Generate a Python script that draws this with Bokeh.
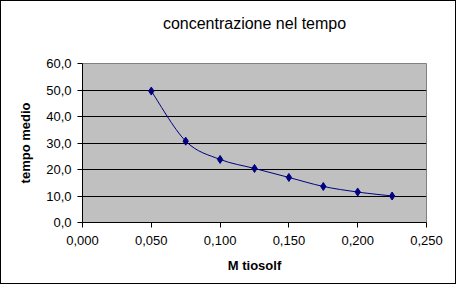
from bokeh.plotting import figure
from bokeh.models import (FixedTicker, CustomJSTickFormatter, Range1d, ColumnDataSource)
from bokeh.embed import file_html
from bokeh.resources import INLINE

# Data
conc = [0.050, 0.075, 0.100, 0.125, 0.150, 0.175, 0.200, 0.225]
tempo = [49.6, 30.7, 23.8, 20.4, 17.0, 13.6, 11.5, 10.0]
x_ticks = [0.0, 0.05, 0.10, 0.15, 0.20, 0.25]
y_ticks = [0, 10, 20, 30, 40, 50, 60]
title_text = "concentrazione nel tempo"
x_label = "M tiosolf"
y_label = "tempo medio"

FONT = "Liberation Sans"

p = figure(width=456, height=284, output_backend="svg", toolbar_location=None,
           x_range=Range1d(0, 0.25), y_range=Range1d(0, 60),
           min_border_left=81, min_border_right=31, min_border_top=62, min_border_bottom=63)
p.styles = {"border": "1px solid black"}

p.background_fill_color = "#C0C0C0"
p.border_fill_color = "white"
p.outline_line_color = "#808080"
p.outline_line_width = 1

# title (a blank second line lifts it higher above the frame)
p.title.text = title_text + "\n "
p.title.align = "center"
p.title.offset = -26
p.title.text_font = FONT
p.title.text_font_size = "16px"
p.title.text_line_height = 1.4
p.title.text_font_style = "normal"
p.title.text_color = "black"
p.title.standoff = 16

# axes
for ax in (p.xaxis[0], p.yaxis[0]):
    ax.axis_line_color = "black"
    ax.major_tick_line_color = "black"
    ax.major_tick_in = 0
    ax.major_tick_out = 5
    ax.minor_tick_line_color = None
    ax.major_label_text_font = FONT
    ax.major_label_text_font_size = "13px"
    ax.major_label_text_color = "black"
    ax.axis_label_text_font = FONT
    ax.axis_label_text_font_size = "13px"
    ax.axis_label_text_font_style = "bold"
    ax.axis_label_text_color = "black"

p.xaxis.ticker = FixedTicker(ticks=x_ticks)
p.yaxis.ticker = FixedTicker(ticks=y_ticks)
p.xaxis.formatter = CustomJSTickFormatter(code="return tick.toFixed(3).replace('.', ',');")
p.yaxis.formatter = CustomJSTickFormatter(code="return tick.toFixed(1).replace('.', ',');")
p.xaxis.axis_label = x_label
p.yaxis.axis_label = y_label
p.xaxis.major_label_standoff = 8
p.xaxis.axis_label_standoff = 10
p.yaxis.major_label_standoff = 6
p.yaxis.axis_label_standoff = 10

p.xgrid.grid_line_color = None
p.ygrid.ticker = FixedTicker(ticks=[10, 20, 30, 40, 50])
p.ygrid.grid_line_color = "black"
p.ygrid.grid_line_width = 1

# smooth curve (Bezier segments built from the data points)
n = len(conc)
x0, y0, x1, y1, cx0, cy0, cx1, cy1 = [], [], [], [], [], [], [], []
for i in range(n - 1):
    xm = conc[i - 1] if i > 0 else conc[i]
    ym = tempo[i - 1] if i > 0 else tempo[i]
    xp = conc[i + 2] if i + 2 < n else conc[i + 1]
    yp = tempo[i + 2] if i + 2 < n else tempo[i + 1]
    x0.append(conc[i]); y0.append(tempo[i])
    x1.append(conc[i + 1]); y1.append(tempo[i + 1])
    cx0.append(conc[i] + (conc[i + 1] - xm) / 6); cy0.append(tempo[i] + (tempo[i + 1] - ym) / 6)
    cx1.append(conc[i + 1] - (xp - conc[i]) / 6); cy1.append(tempo[i + 1] - (yp - tempo[i]) / 6)

seg = ColumnDataSource(dict(x0=x0, y0=y0, x1=x1, y1=y1, cx0=cx0, cy0=cy0, cx1=cx1, cy1=cy1))
p.bezier(x0="x0", y0="y0", x1="x1", y1="y1", cx0="cx0", cy0="cy0", cx1="cx1", cy1="cy1",
         source=seg, line_color="#000080", line_width=1)
p.scatter(conc, tempo, marker="diamond", size=8, fill_color="#000080", line_color="#000080")

open("out.html", "w").write(file_html(p, INLINE))
